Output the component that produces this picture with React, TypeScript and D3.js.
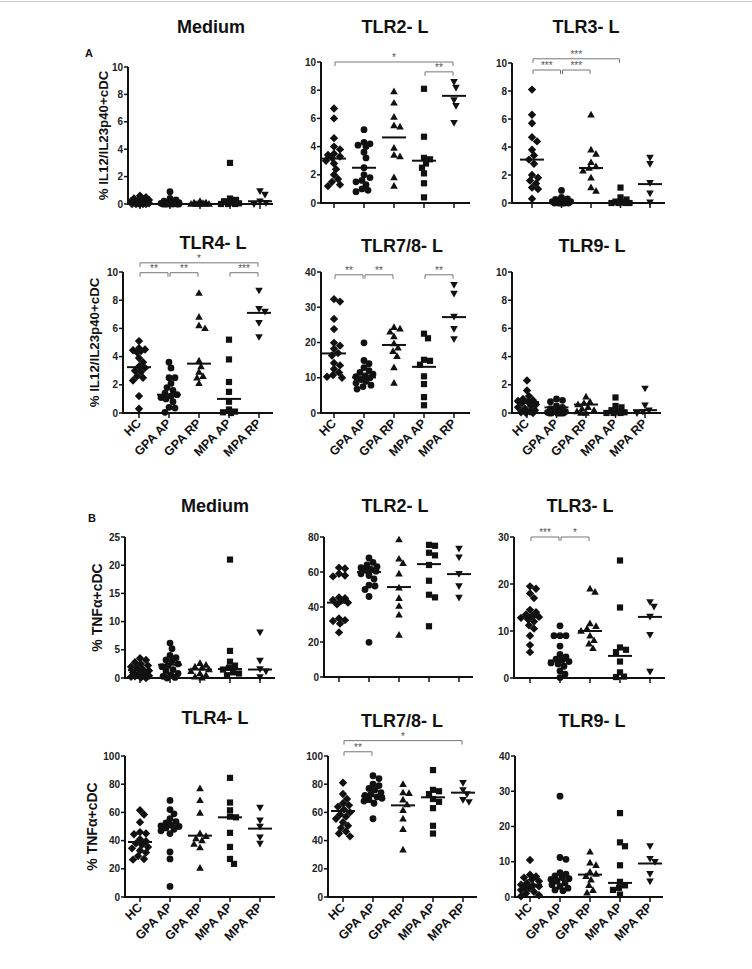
import React from 'react';
import * as d3 from 'd3';

const groups = ['HC', 'GPA AP', 'GPA RP', 'MPA AP', 'MPA RP'];
const yTitleIL = '% IL12/IL23p40+cDC';
const yTitleTNF = '% TNFα+cDC';

// ---------- Panel A: % IL12/IL23p40+ cDC ----------
const il12Medium = [
  [0.6, 0.5, 0.4, 0.35, 0.3, 0.25, 0.2, 0.15, 0.1, 0.1, 0.05, 0.05, 0, 0, 0, 0, 0],
  [0.9, 0.4, 0.3, 0.2, 0.15, 0.1, 0.1, 0.05, 0.05, 0, 0, 0, 0, 0, 0, 0],
  [0.2, 0.1, 0.1, 0.05, 0, 0, 0, 0, 0, 0],
  [3.0, 0.4, 0.3, 0.2, 0.1, 0.05, 0, 0, 0],
  [0.95, 0.7, 0.2, 0.1, 0],
];
const il12MediumMedians = [0.1, 0.1, 0, 0.05, 0.2];

const il12Tlr2 = [
  [6.7, 6.0, 4.6, 4.0, 3.8, 3.5, 3.4, 3.3, 3.2, 3.0, 2.8, 2.4, 2.0, 1.7, 1.5, 1.3, 1.2],
  [5.2, 4.3, 4.2, 4.1, 4.0, 3.6, 3.2, 2.5, 2.0, 1.8, 1.6, 1.5, 1.3, 1.0, 0.9, 0.8],
  [7.9, 7.1, 6.1, 5.5, 5.4, 3.9, 3.4, 3.3, 1.8, 1.2],
  [8.1, 4.7, 3.2, 3.1, 2.8, 2.5, 2.1, 1.4, 0.4],
  [8.6, 8.2, 7.3, 6.9, 5.7],
];
const il12Tlr2Medians = [3.15, 2.5, 4.65, 3.0, 7.6];
const il12Tlr2Brackets = [
  { from: 0, to: 4, at: 10, label: '*' },
  { from: 3, to: 4, at: 9.3, label: '**' },
];

const il12Tlr3 = [
  [8.1, 6.3, 5.7, 4.7, 4.4, 3.8, 3.4, 3.1, 2.8, 2.0, 1.8, 1.6, 1.4, 1.1, 1.0, 0.3],
  [0.9, 0.4, 0.3, 0.25, 0.2, 0.15, 0.1, 0.1, 0.05, 0.05, 0, 0, 0, 0, 0, 0],
  [6.3, 3.8, 3.5, 2.9, 2.6, 2.5, 2.3, 1.8, 1.1, 0.85],
  [1.1, 0.4, 0.25, 0.1, 0.05, 0, 0, 0, 0],
  [3.25, 2.8, 1.45, 0.7, 0.05],
];
const il12Tlr3Medians = [3.1, 0.2, 2.5, 0.05, 1.35];
const il12Tlr3Brackets = [
  { from: 0, to: 3, at: 10.3, label: '***' },
  { from: 0, to: 1, at: 9.5, label: '***' },
  { from: 1, to: 2, at: 9.5, label: '***' },
];

const il12Tlr4 = [
  [5.1, 4.6, 4.5, 4.45, 4.4, 4.3, 3.9, 3.6, 3.3, 3.2, 3.0, 2.9, 2.6, 2.5, 2.3, 1.2, 0.3],
  [3.6, 3.2, 2.5, 2.5, 2.1, 1.8, 1.6, 1.4, 1.3, 1.2, 1.1, 1.0, 0.8, 0.4, 0.35, 0.05],
  [8.5, 6.8, 6.2, 6.0, 3.7, 3.3, 2.9, 2.6, 2.5, 2.1],
  [5.2, 3.8, 2.2, 1.5, 0.8, 0.25, 0.1, 0.05, 0],
  [8.7, 7.4, 7.2, 6.4, 5.4],
];
const il12Tlr4Medians = [3.25, 1.3, 3.5, 1.0, 7.1];
const il12Tlr4Brackets = [
  { from: 0, to: 4, at: 10.65, label: '*' },
  { from: 0, to: 1, at: 9.95, label: '**' },
  { from: 1, to: 2, at: 9.95, label: '**' },
  { from: 3, to: 4, at: 9.95, label: '***' },
];

const il12Tlr78 = [
  [32.3, 31.6, 26.7, 23.8, 19.9, 19.1, 18.2, 17.0, 16.3, 14.2, 13.5, 12.5, 11.5, 10.8, 10.3, 10.0],
  [19.9, 14.9, 14.0, 12.9, 12.0, 11.5, 11.0, 10.5, 10.3, 10.0, 9.5, 9.0, 8.5, 7.9, 7.5, 6.8],
  [24.3, 23.9, 23.0, 21.7, 19.7, 18.5, 17.5, 16.1, 12.9, 8.5],
  [22.5, 21.2, 15.1, 14.8, 13.7, 10.4, 8.2, 4.5, 2.2],
  [36.4, 33.9, 27.4, 23.9, 21.0],
];
const il12Tlr78Medians = [16.9, 10.1, 19.3, 13.1, 27.2];
const il12Tlr78Brackets = [
  { from: 0, to: 1, at: 39.2, label: '**' },
  { from: 1, to: 2, at: 39.2, label: '**' },
  { from: 3, to: 4, at: 39.2, label: '**' },
];

const il12Tlr9 = [
  [2.3, 1.6, 1.2, 1.0, 0.9, 0.85, 0.8, 0.7, 0.6, 0.5, 0.4, 0.3, 0.2, 0.1, 0.05, 0, 0],
  [1.0, 0.9, 0.8, 0.5, 0.4, 0.3, 0.2, 0.1, 0.1, 0.05, 0, 0, 0, 0, 0, 0],
  [1.15, 0.8, 0.7, 0.6, 0.4, 0.3, 0.2, 0.1, 0, 0],
  [1.1, 0.5, 0.4, 0.2, 0.1, 0.05, 0, 0, 0],
  [1.75, 0.55, 0.2, 0.1, 0],
];
const il12Tlr9Medians = [0.78, 0.4, 0.6, 0.1, 0.2];

// ---------- Panel B: % TNFα+ cDC ----------
const tnfMedium = [
  [3.5, 3.2, 2.8, 2.5, 2.2, 2.0, 1.8, 1.5, 1.3, 1.0, 0.8, 0.6, 0.4, 0.3, 0.2, 0.1, 0],
  [6.2, 5.2, 4.0, 3.6, 3.2, 3.0, 2.5, 2.2, 2.0, 1.5, 1.2, 0.8, 0.5, 0.3, 0.1, 0],
  [2.6, 2.3, 2.0, 1.8, 1.5, 1.2, 0.8, 0.5, 0.2, 0.05],
  [21.0, 4.8, 2.9, 2.2, 1.8, 1.5, 1.0, 0.8, 0.5],
  [8.1, 3.1, 1.6, 1.2, 0.2],
];
const tnfMediumMedians = [1.4, 2.35, 1.5, 1.6, 1.5];

const tnfTlr2 = [
  [62.5, 62.0, 59.0, 58.0, 57.5, 45.5, 45.0, 44.0, 43.5, 42.5, 41.5, 33.5, 32.5, 32.0, 30.5, 25.5],
  [68.0, 65.5, 64.0, 63.0, 62.5, 61.5, 61.0, 60.5, 59.0, 58.0, 56.0, 52.5, 52.0, 50.0, 46.0, 19.8],
  [78.5, 67.5, 65.0, 59.0, 51.0, 45.0, 40.5, 35.5, 24.0],
  [75.5, 75.0, 71.0, 69.5, 64.0, 55.0, 47.0, 45.5, 29.0],
  [73.5, 68.5, 59.0, 52.0, 45.5],
];
const tnfTlr2Medians = [42.5, 60.0, 51.4, 64.5, 58.8];

const tnfTlr3 = [
  [19.5, 19.0, 18.0, 17.0, 14.5, 14.0, 13.5, 13.2, 13.0, 12.8, 12.5, 12.0, 11.2, 10.5, 9.0, 7.0, 5.5],
  [11.1, 9.0, 9.0, 9.0, 6.8, 5.0, 4.5, 4.0, 3.8, 3.5, 3.2, 3.0, 2.5, 1.5, 0.8, 0.1],
  [19.0, 18.3, 11.6, 11.0, 10.5, 10.0, 9.0, 8.0, 7.3, 6.3],
  [25.0, 15.0, 6.5, 6.0, 5.5, 3.5, 1.2, 0.3, 0.2],
  [16.2, 15.2, 13.1, 9.2, 1.4],
];
const tnfTlr3Medians = [12.9, 3.7, 10.0, 4.7, 13.0];
const tnfTlr3Brackets = [
  { from: 0, to: 1, at: 30, label: '***' },
  { from: 1, to: 2, at: 30, label: '*' },
];

const tnfTlr4 = [
  [61.5, 58.5, 53.0, 46.0, 45.0, 44.5, 41.0, 39.5, 38.0, 37.0, 35.5, 34.5, 33.0, 31.5, 29.0, 27.0, 26.5],
  [68.5, 62.0, 59.0, 55.5, 53.5, 52.5, 51.0, 50.5, 50.0, 49.0, 48.0, 47.0, 45.0, 32.0, 27.0, 7.5],
  [77.0, 68.5, 59.5, 45.0, 43.0, 41.5, 40.0, 37.5, 35.0, 20.5],
  [84.5, 67.0, 61.5, 57.0, 56.5, 45.5, 35.5, 27.0, 23.5],
  [63.5, 54.5, 50.0, 42.5, 38.0],
];
const tnfTlr4Medians = [39.0, 50.5, 43.5, 56.5, 48.5];

const tnfTlr78 = [
  [81.0, 73.0, 69.5, 66.5, 65.0, 64.0, 62.0, 60.0, 58.5, 57.0, 55.5, 53.0, 50.5, 49.0, 46.5, 45.0, 43.0],
  [86.0, 84.0, 80.0, 79.0, 77.0, 76.0, 74.0, 73.0, 72.0, 71.0, 70.0, 69.0, 68.0, 66.5, 55.5],
  [80.0, 74.0, 73.5, 69.0, 65.5, 61.5, 55.5, 48.0, 33.5],
  [90.0, 76.0, 75.0, 73.0, 69.5, 67.5, 63.0, 50.5, 45.0],
  [81.0, 76.0, 73.0, 69.0, 67.5],
];
const tnfTlr78Medians = [61.0, 71.5, 65.0, 70.7, 74.0];
const tnfTlr78Brackets = [
  { from: 0, to: 4, at: 110.9, label: '*' },
  { from: 0, to: 1, at: 103, label: '**' },
];

const tnfTlr9 = [
  [10.5, 6.3, 5.8, 5.5, 5.0, 4.5, 4.0, 3.5, 3.2, 3.0, 2.8, 2.5, 2.0, 1.5, 1.0, 0.5, 0.2],
  [28.6, 11.2, 10.7, 6.9, 6.5, 6.0, 5.5, 5.2, 5.0, 4.5, 4.0, 3.5, 3.0, 2.5, 2.0, 1.8],
  [12.8, 9.7, 9.0, 7.1, 6.5, 5.9, 4.9, 3.3, 1.9, 1.2],
  [23.8, 15.5, 14.4, 9.0, 4.3, 3.3, 2.6, 2.0, 0.7],
  [14.5, 10.9, 10.0, 6.6, 4.5],
];
const tnfTlr9Medians = [3.5, 5.2, 6.35, 4.0, 9.5];

// ---------- layout ----------
type Bracket = { from: number; to: number; at: number; label: string };
type PanelSpec = {
  title: string;
  data: number[][];
  medians: number[];
  brackets: Bracket[];
  max: number;
  step: number;
  ax: number; top: number; bottom: number; first: number; dx: number; end: number;
  tx: number; ty: number;
  xLabels: boolean;
  yLabel?: string; ylx?: number; ylSize?: number;
  letter?: string; lx?: number; ly?: number;
};

const panels: PanelSpec[] = [
  { title: 'Medium', data: il12Medium, medians: il12MediumMedians, brackets: [], max: 10, step: 2,
    ax: 128, top: 67, bottom: 204, first: 140, dx: 30, end: 273, tx: 211, ty: 26, xLabels: false,
    yLabel: yTitleIL, ylx: 103, ylSize: 13.3, letter: 'A', lx: 89, ly: 53 },
  { title: 'TLR2- L', data: il12Tlr2, medians: il12Tlr2Medians, brackets: il12Tlr2Brackets, max: 10, step: 2,
    ax: 321, top: 62, bottom: 203, first: 334, dx: 30, end: 470, tx: 395, ty: 26, xLabels: false },
  { title: 'TLR3- L', data: il12Tlr3, medians: il12Tlr3Medians, brackets: il12Tlr3Brackets, max: 10, step: 2,
    ax: 512, top: 63, bottom: 203, first: 532, dx: 29.5, end: 665, tx: 586, ty: 26, xLabels: false },
  { title: 'TLR4- L', data: il12Tlr4, medians: il12Tlr4Medians, brackets: il12Tlr4Brackets, max: 10, step: 2,
    ax: 123, top: 272, bottom: 413, first: 139, dx: 30, end: 273, tx: 213, ty: 242, xLabels: true,
    yLabel: yTitleIL, ylx: 94, ylSize: 13.3 },
  { title: 'TLR7/8- L', data: il12Tlr78, medians: il12Tlr78Medians, brackets: il12Tlr78Brackets, max: 40, step: 10,
    ax: 321, top: 272, bottom: 413, first: 334, dx: 30, end: 470, tx: 402, ty: 245, xLabels: true },
  { title: 'TLR9- L', data: il12Tlr9, medians: il12Tlr9Medians, brackets: [], max: 10, step: 2,
    ax: 512, top: 272, bottom: 413, first: 527, dx: 29.5, end: 661, tx: 592, ty: 245, xLabels: true },
  { title: 'Medium', data: tnfMedium, medians: tnfMediumMedians, brackets: [], max: 25, step: 5,
    ax: 125, top: 537, bottom: 678, first: 140, dx: 30, end: 275, tx: 215, ty: 505, xLabels: false,
    yLabel: yTitleTNF, ylx: 97, ylSize: 14, letter: 'B', lx: 92, ly: 518 },
  { title: 'TLR2- L', data: tnfTlr2, medians: tnfTlr2Medians, brackets: [], max: 80, step: 20,
    ax: 324, top: 537, bottom: 677, first: 339, dx: 30, end: 473, tx: 395, ty: 505, xLabels: false },
  { title: 'TLR3- L', data: tnfTlr3, medians: tnfTlr3Medians, brackets: tnfTlr3Brackets, max: 30, step: 10,
    ax: 514, top: 537, bottom: 678, first: 530, dx: 30, end: 665, tx: 580, ty: 505, xLabels: false },
  { title: 'TLR4- L', data: tnfTlr4, medians: tnfTlr4Medians, brackets: [], max: 100, step: 20,
    ax: 125, top: 756, bottom: 897, first: 140, dx: 30, end: 275, tx: 215, ty: 717, xLabels: true,
    yLabel: yTitleTNF, ylx: 92, ylSize: 14 },
  { title: 'TLR7/8- L', data: tnfTlr78, medians: tnfTlr78Medians, brackets: tnfTlr78Brackets, max: 100, step: 20,
    ax: 328, top: 756, bottom: 897, first: 343, dx: 30, end: 477, tx: 402, ty: 720, xLabels: true },
  { title: 'TLR9- L', data: tnfTlr9, medians: tnfTlr9Medians, brackets: [], max: 40, step: 10,
    ax: 515, top: 756, bottom: 897, first: 530, dx: 30, end: 663, tx: 592, ty: 720, xLabels: true },
];

const FONT = '"Liberation Sans", Arial, Helvetica, sans-serif';

function markerPath(kind: number): string {
  switch (kind) {
    case 0: return 'M0,-4.2L4.2,0L0,4.2L-4.2,0Z';
    case 1: { const p = d3.path(); p.arc(0, 0, 3.4, 0, Math.PI * 2); p.closePath(); return p.toString(); }
    case 2: return 'M0,-4L3.8,2.7L-3.8,2.7Z';
    case 3: return 'M-3.1,-3.1L3.1,-3.1L3.1,3.1L-3.1,3.1Z';
    default: return 'M0,4L3.8,-2.7L-3.8,-2.7Z';
  }
}

function swarm(values: number[], y: (v: number) => number, cx: number) {
  const minDist = 5.8;
  const maxOff = 9;
  const order = values.map((_, i) => i).sort((a, b) => values[b] - values[a]);
  const placed: { x: number; y: number }[] = [];
  const out: { x: number; y: number }[] = new Array(values.length);
  for (const i of order) {
    const py = y(values[i]);
    let chosen = 0;
    let bestScore = -Infinity;
    for (let k = 0; k <= maxOff * 2; k++) {
      const off = k === 0 ? 0 : (k % 2 === 1 ? 1 : -1) * Math.ceil(k / 2);
      let md = Infinity;
      for (const q of placed) {
        const d = Math.hypot(cx + off - q.x, py - q.y);
        if (d < md) md = d;
      }
      if (md >= minDist) { chosen = off; bestScore = Infinity; break; }
      if (md > bestScore) { bestScore = md; chosen = off; }
    }
    const pt = { x: cx + chosen, y: py };
    placed.push(pt);
    out[i] = pt;
  }
  return out;
}

function Panel({ p }: { p: PanelSpec }) {
  const y = d3.scaleLinear().domain([0, p.max]).range([p.bottom, p.top]);
  const x = d3.scalePoint<string>().domain(groups).range([p.first, p.first + p.dx * 4]);
  const ticks = d3.range(0, p.max + 1e-9, p.step);
  return (
    <g>
      <text x={p.tx} y={p.ty + 6.5} textAnchor="middle" fontFamily={FONT} fontWeight="bold" fontSize={18} fill="#111">
        {p.title}
      </text>
      {p.letter && (
        <text x={p.lx} y={(p.ly as number) + 4} textAnchor="middle" fontFamily={FONT} fontWeight="bold" fontSize={11} fill="#111">
          {p.letter}
        </text>
      )}
      {p.yLabel && (
        <text
          transform={`translate(${p.ylx},${(p.top + p.bottom) / 2}) rotate(-90)`}
          textAnchor="middle" dy="0.36em" fontFamily={FONT} fontWeight="bold" fontSize={p.ylSize} fill="#111">
          {p.yLabel}
        </text>
      )}
      {/* y axis */}
      <line x1={p.ax} x2={p.ax} y1={p.bottom + 1} y2={p.top} stroke="#111" strokeWidth={2} />
      {ticks.map((t) => (
        <g key={t}>
          <line x1={p.ax - 4} x2={p.ax} y1={y(t)} y2={y(t)} stroke="#111" strokeWidth={1.5} />
          <text x={p.ax - 5} y={y(t)} dy="0.35em" textAnchor="end" fontFamily={FONT} fontWeight="bold" fontSize={10} fill="#222">
            {t}
          </text>
        </g>
      ))}
      {/* x axis */}
      <line x1={p.ax - 1} x2={p.end} y1={p.bottom} y2={p.bottom} stroke="#111" strokeWidth={2} />
      {groups.map((g) => (
        <line key={g} x1={x(g)} x2={x(g)} y1={p.bottom} y2={p.bottom + 5} stroke="#111" strokeWidth={1.5} />
      ))}
      {p.xLabels && groups.map((g) => (
        <text key={g} transform={`translate(${(x(g) as number) + 3},${p.bottom + 11}) rotate(-45)`}
          textAnchor="end" fontFamily={FONT} fontWeight="bold" fontSize={12.5} fill="#111">
          {g}
        </text>
      ))}
      {/* brackets */}
      {p.brackets.map((b, i) => {
        const x1 = (x(groups[b.from]) as number) + 1;
        const x2 = (x(groups[b.to]) as number) - 1;
        const by = y(b.at);
        return (
          <g key={i}>
            <path d={`M${x1},${by + 4}V${by}H${x2}V${by + 4}`} fill="none" stroke="#777" strokeWidth={1} />
            <text x={(x1 + x2) / 2} y={by - 1} textAnchor="middle" fontFamily={FONT} fontSize={10} fill="#555">
              {b.label}
            </text>
          </g>
        );
      })}
      {/* points */}
      {p.data.map((vals, gi) => {
        const cx = x(groups[gi]) as number;
        const pts = swarm(vals, y, cx);
        return (
          <g key={gi}>
            {pts.map((pt, j) => (
              <path key={j} d={markerPath(gi)} transform={`translate(${pt.x},${pt.y})`} fill="#111" />
            ))}
            <line x1={cx - 12} x2={cx + 12} y1={y(p.medians[gi])} y2={y(p.medians[gi])} stroke="#111" strokeWidth={2} />
          </g>
        );
      })}
    </g>
  );
}

export default function App() {
  return (
    <svg width={752} height={969} style={{ position: 'absolute', left: 0, top: 0, background: '#fff' }}>
      <rect x={0} y={0} width={752} height={969} fill="#fff" />
      <line x1={0} x2={752} y1={1.5} y2={1.5} stroke="#c8c8c8" strokeWidth={1} />
      {panels.map((p, i) => <Panel key={i} p={p} />)}
    </svg>
  );
}
